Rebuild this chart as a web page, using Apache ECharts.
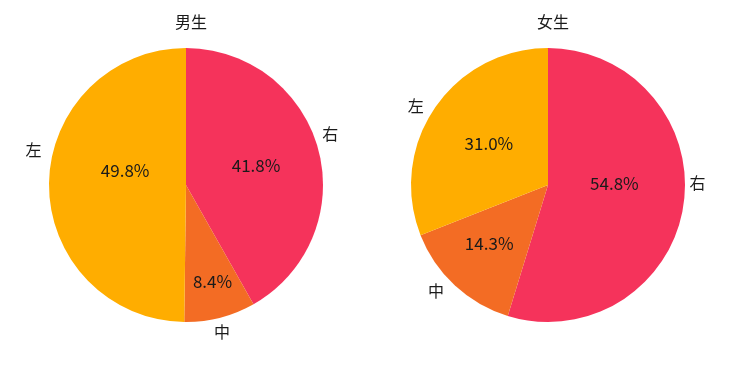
<!DOCTYPE html>
<html><head><meta charset="utf-8">
<script src="https://cdn.jsdelivr.net/npm/echarts@6/dist/echarts.min.js"></script>
<style>html,body{margin:0;padding:0;background:#fff}#c{width:740px;height:370px}</style>
</head><body><div id="c"></div>
<script>
const categories = ['右', '中', '左'];
const titles = ['男生', '女生'];
const boyValues = [41.8, 8.4, 49.8];
const girlValues = [54.8, 14.3, 31.0];

// styling / label placement (not data)
const colors = ['#F5335B', '#F36C24', '#FFAD00'];
const R = 137;
const centers = [[186, 185], [548, 185]];
// [distance factor, angle offset in degrees] per slice
const pctPlace = [[[0.53, 0.5], [0.734, 0.9], [0.457, -13.2]], [[0.485, 9.9], [0.607, -2.2], [0.529, -1.1]]];
const namePlace = [[[1.117, 4.7], [1.102, -0.6], [1.143, -12.75]], [[1.091, 9.4], [1.126, -3.8], [1.123, 3.5]]];
const font = '"Noto Sans CJK SC", "Noto Sans", sans-serif';

function mk(values) {
  return categories.map((c, i) => ({ name: c, value: values[i], itemStyle: { color: colors[i] } }));
}
function layoutFn(ci, place) {
  return function (p) {
    const cx = centers[ci][0], cy = centers[ci][1];
    const lx = p.labelRect.x + p.labelRect.width / 2;
    const ly = p.labelRect.y + p.labelRect.height / 2;
    const pl = place[ci][p.dataIndex];
    const th = Math.atan2(-(ly - cy), lx - cx) + pl[1] * Math.PI / 180;
    return { x: cx + R * pl[0] * Math.cos(th), y: cy - R * pl[0] * Math.sin(th) };
  };
}
const series = [];
[boyValues, girlValues].forEach((vals, ci) => {
  series.push({
    type: 'pie', radius: [0, R], center: centers[ci], startAngle: 90, clockwise: true,
    avoidLabelOverlap: false, silent: true, animation: false,
    label: { show: false }, labelLine: { show: false },
    data: mk(vals)
  });
  series.push({
    type: 'pie', radius: [0, R], center: centers[ci], startAngle: 90, clockwise: true,
    avoidLabelOverlap: false, silent: true, animation: false,
    itemStyle: { color: 'rgba(0,0,0,0)' },
    label: { show: true, position: 'inside', fontFamily: font, fontSize: 17, color: '#1a1a1a',
      formatter: p => p.value.toFixed(1) + '%' },
    labelLine: { show: false },
    labelLayout: layoutFn(ci, pctPlace),
    data: categories.map((c, i) => ({ name: c, value: vals[i] }))
  });
  series.push({
    type: 'pie', radius: [0, R], center: centers[ci], startAngle: 90, clockwise: true,
    avoidLabelOverlap: false, silent: true, animation: false,
    itemStyle: { color: 'rgba(0,0,0,0)' },
    label: { show: true, position: 'inside', fontFamily: font, fontSize: 16, color: '#1a1a1a',
      formatter: p => p.name },
    labelLine: { show: false },
    labelLayout: layoutFn(ci, namePlace),
    data: categories.map((c, i) => ({ name: c, value: vals[i] }))
  });
});
const chart = echarts.init(document.getElementById('c'), null, { renderer: 'canvas' });
chart.setOption({
  backgroundColor: '#fff',
  animation: false,
  title: titles.map((t, i) => ({
    text: t, left: centers[i][0], top: 9, textAlign: 'center',
    textStyle: { fontFamily: font, fontSize: 16, fontWeight: 'normal', color: '#1a1a1a' }
  })),
  series: series
});
</script></body></html>
